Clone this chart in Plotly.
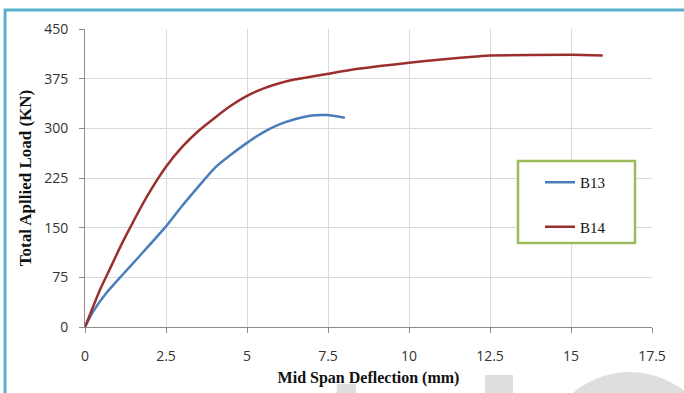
import plotly.graph_objects as go

# ---- data ----
b13_x = [0, 0.26, 0.67, 1.18, 1.70, 2.5, 3.0, 3.5, 4.0, 4.5, 5.0, 5.5, 6.0, 6.5, 7.0, 7.46, 8.02]
b13_y = [0, 24, 52, 80, 108, 152, 183, 212, 240, 260, 278, 294, 306, 314, 319.5, 320, 316]

b14_x = [0, 0.46, 0.77, 1.18, 1.5, 1.9, 2.5, 3.0, 3.5, 4.06, 4.5, 5.0, 5.5, 5.92, 6.5, 7.46, 8.18, 9.1, 10.0, 11.0, 12.19, 12.5, 15.0, 15.98]
b14_y = [0, 56, 88, 130, 160, 196, 242, 272, 296, 318, 334, 349, 360, 367, 374, 382, 388, 394, 399, 404, 409, 410, 411, 410]

x_ticks = [0, 2.5, 5, 7.5, 10, 12.5, 15, 17.5]
x_ticktext = ["0", "2.5", "5", "7.5", "10", "12.5", "15", "17.5"]
y_ticks = [0, 75, 150, 225, 300, 375, 450]

fig = go.Figure()
fig.add_trace(go.Scatter(x=b13_x, y=b13_y, mode="lines", name="B13",
                         line=dict(color="#4A7EBB", width=2.5, shape="spline", smoothing=0.6),
                         legendgroup="a"))
fig.add_trace(go.Scatter(x=b14_x, y=b14_y, mode="lines", name="B14",
                         line=dict(color="#9B2F2E", width=2.5, shape="spline", smoothing=0.6),
                         legendgroup="b"))

tick_font = dict(family="Open Sans", size=14, color="#333333")

fig.update_xaxes(range=[0, 17.5], tickvals=x_ticks, ticktext=x_ticktext,
                 showgrid=True, gridcolor="#D9D9D9", gridwidth=1,
                 showline=True, linecolor="#8C8C8C", linewidth=1,
                 ticks="outside", ticklen=5, tickcolor="#8C8C8C",
                 zeroline=False, tickfont=tick_font, ticklabelstandoff=11,
                 automargin=False,
                 title=dict(text="<b>Mid Span Deflection (mm)</b>",
                            font=dict(family="Liberation Serif", size=16, color="#111111"),
                            standoff=8))
fig.update_yaxes(range=[0, 450], tickvals=y_ticks,
                 showgrid=True, gridcolor="#D9D9D9", gridwidth=1,
                 showline=True, linecolor="#8C8C8C", linewidth=1,
                 ticks="outside", ticklen=5, tickcolor="#8C8C8C",
                 zeroline=False, tickfont=tick_font, ticklabelstandoff=8,
                 automargin=False,
                 title=dict(text="<b>Total Apllied Load (KN)</b>",
                            font=dict(family="Liberation Serif", size=17, color="#111111"),
                            standoff=8))

shapes = [
    # outer frame
    dict(type="rect", xref="paper", yref="paper", x0=-0.141, x1=1.2, y0=-0.4, y1=1.064,
         line=dict(color="#5BB0C9", width=3), fillcolor="rgba(0,0,0,0)", layer="above"),
    # legend frame
    dict(type="rect", xref="paper", yref="paper", x0=(518 - 85) / 567, x1=(635 - 85) / 567,
         y0=(327 - 243) / 298, y1=(327 - 161) / 298,
         line=dict(color="#9BBB59", width=2.5), fillcolor="white", layer="above"),
    # faint watermark pieces
    dict(type="rect", xref="paper", yref="paper", x0=0.444, x1=0.478, y0=-0.25, y1=-0.191,
         line=dict(width=0), fillcolor="#DEDEDE", layer="below"),
    dict(type="rect", xref="paper", yref="paper", x0=0.7055, x1=0.7549, y0=-0.25, y1=-0.161,
         line=dict(width=0), fillcolor="#DEDEDE", layer="below"),
    dict(type="circle", xref="paper", yref="paper", x0=0.806, x1=1.116, y0=-0.742, y1=-0.151,
         line=dict(width=0), fillcolor="#DEDEDE", layer="below"),
]

fig.update_layout(
    width=684, height=393,
    margin=dict(l=85, r=32, t=29, b=66),
    paper_bgcolor="white", plot_bgcolor="white",
    shapes=shapes,
    legend=dict(x=(540 - 85) / 567, y=(327 - 166) / 298, xanchor="left", yanchor="top",
                bgcolor="rgba(0,0,0,0)", borderwidth=0,
                font=dict(family="Liberation Serif", size=15, color="#111111"),
                itemwidth=30, tracegroupgap=22, traceorder="grouped"),
    showlegend=True,
)

fig.write_html("out.html")
